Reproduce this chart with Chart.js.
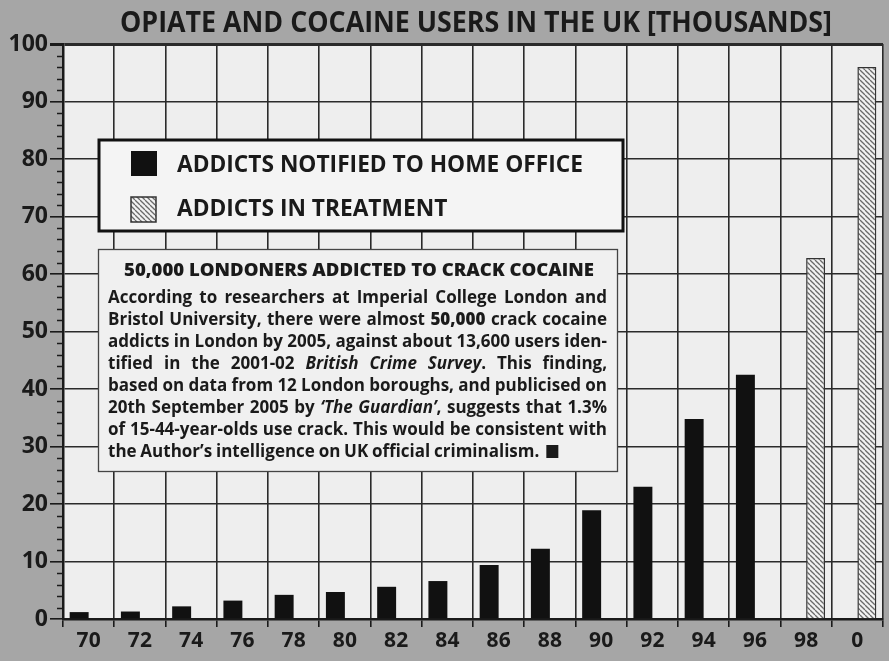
<!DOCTYPE html>
<html><head><meta charset="utf-8">
<script src="https://cdn.jsdelivr.net/npm/chart.js@4.4.1/dist/chart.umd.min.js"></script>
<style>html,body{margin:0;padding:0;background:#a6a6a6;overflow:hidden;}</style>
</head><body>
<canvas id="c" width="889" height="661"></canvas>
<script>
// ---- data ----
const years = ['70','72','74','76','78','80','82','84','86','88','90','92','94','96','98','0'];
const notified = [1.2,1.3,2.2,3.2,4.2,4.7,5.6,6.6,9.4,12.2,18.9,23.0,34.8,42.5,null,null];
const treatment = [null,null,null,null,null,null,null,null,null,null,null,null,null,null,62.8,96.0];
const yMin = 0, yMax = 100, yStep = 10, yMinorStep = 2;
const titleText = 'OPIATE AND COCAINE USERS IN THE UK [THOUSANDS]';
const legendLabels = ['ADDICTS NOTIFIED TO HOME OFFICE', 'ADDICTS IN TREATMENT'];
const boxHeading = '50,000 LONDONERS ADDICTED TO CRACK COCAINE';
const boxLines = [
  'According to researchers at Imperial College London and',
  'Bristol University, there were almost **50,000** crack cocaine',
  'addicts in London by 2005, against about 13,600 users iden-',
  'tified in the 2001-02 *British Crime Survey*. This finding,',
  'based on data from 12 London boroughs, and publicised on',
  '20th September 2005 by *‘The Guardian’*, suggests that 1.3%',
  'of 15-44-year-olds use crack. This would be consistent with',
  'the Author’s intelligence on UK official criminalism.'
];

const FONT = '"Open Sans", "DejaVu Sans", sans-serif';
const INK = '#1a1a1a';

function makeHatch(bg) {
  const s = 5, c = document.createElement('canvas');
  c.width = s; c.height = s;
  const g = c.getContext('2d');
  g.fillStyle = bg; g.fillRect(0, 0, s, s);
  g.strokeStyle = '#6a6a6a'; g.lineWidth = 1.3;
  for (const k of [-s, 0, s]) { g.beginPath(); g.moveTo(k, 0); g.lineTo(k + s, s); g.stroke(); }
  return g.createPattern(c, 'repeat');
}
const hatch = makeHatch('#f2f2f2');

function fitText(ctx, text, font, cx, y, targetW, align) {
  ctx.save();
  ctx.font = font;
  const w = ctx.measureText(text).width;
  const sx = targetW ? targetW / w : 1;
  ctx.translate(cx, y);
  ctx.scale(sx, 1);
  ctx.textAlign = align || 'center';
  ctx.textBaseline = 'alphabetic';
  ctx.fillText(text, 0, 0);
  ctx.restore();
}

function parseLine(str) {
  let bold = false, ital = false;
  return str.split(' ').filter(w => w.length).map(word => {
    const pieces = []; let cur = ''; let i = 0;
    const push = () => { if (cur) pieces.push({ t: cur, b: bold, i: ital }); cur = ''; };
    while (i < word.length) {
      if (word.startsWith('**', i)) { push(); bold = !bold; i += 2; }
      else if (word[i] === '*') { push(); ital = !ital; i += 1; }
      else { cur += word[i]; i++; }
    }
    push();
    return pieces;
  });
}
const SZ = 17;
function fontFor(p) {
  return (p.i ? 'italic ' : '') + (p.b ? '800 ' : 'bold ') + SZ + 'px ' + FONT;
}
function drawBodyLine(ctx, str, x, y, width, justify) {
  const words = parseLine(str);
  const ww = words.map(w => w.reduce((a, p) => { ctx.font = fontFor(p); return a + ctx.measureText(p.t).width; }, 0));
  ctx.font = fontFor({});
  const sp = ctx.measureText(' ').width * 0.85;
  const sum = ww.reduce((a, b) => a + b, 0);
  const natural = sum + sp * (words.length - 1);
  let sx = 1, gap = sp;
  if (natural > width) { sx = width / natural; }
  else if (justify) { gap = (width - sum) / (words.length - 1); }
  ctx.save();
  ctx.translate(x, y); ctx.scale(sx, 1);
  ctx.textAlign = 'left'; ctx.textBaseline = 'alphabetic';
  let cx = 0;
  words.forEach((w, k) => {
    w.forEach(p => { ctx.font = fontFor(p); ctx.fillText(p.t, cx, 0); cx += ctx.measureText(p.t).width; });
    if (k < words.length - 1) cx += gap;
  });
  ctx.restore();
  return x + cx * sx;
}

const decor = {
  id: 'decor',
  beforeDraw(chart) {
    const { ctx, chartArea: a } = chart;
    ctx.save();
    ctx.fillStyle = '#a6a6a6';
    ctx.fillRect(0, 0, chart.width, chart.height);
    ctx.fillStyle = '#eeeeee';
    ctx.fillRect(a.left, a.top, a.right - a.left, a.bottom - a.top);
    ctx.restore();
  },
  afterDraw(chart) {
    const { ctx, chartArea: a } = chart;
    const ys = chart.scales.y;
    ctx.save();
    ctx.fillStyle = INK;
    // title
    fitText(ctx, titleText, 'bold 29px ' + FONT, 476, 32, 712);
    // minor ticks
    ctx.strokeStyle = INK; ctx.lineWidth = 1.5;
    for (let v = yMin; v <= yMax; v += yMinorStep) {
      if (v % yStep === 0) continue;
      const py = Math.round(ys.getPixelForValue(v)) + 0.5;
      ctx.beginPath(); ctx.moveTo(a.left - 6, py); ctx.lineTo(a.left, py); ctx.stroke();
    }
    // legend box
    ctx.fillStyle = '#f4f4f4';
    ctx.fillRect(99, 140, 524, 91);
    ctx.lineWidth = 3; ctx.strokeStyle = '#111';
    ctx.strokeRect(99, 140, 524, 91);
    ctx.fillStyle = '#111';
    ctx.fillRect(131, 151, 26, 25);
    ctx.fillStyle = hatch;
    ctx.fillRect(131, 197, 25, 25);
    ctx.lineWidth = 1.5; ctx.strokeStyle = '#333';
    ctx.strokeRect(131, 197, 25, 25);
    ctx.fillStyle = INK;
    ctx.font = 'bold 23px ' + FONT;
    const lw = ctx.measureText(legendLabels[0]).width;
    const lsx = 406 / lw;
    [[legendLabels[0], 172], [legendLabels[1], 216]].forEach(([t, y]) => {
      ctx.save(); ctx.translate(177, y); ctx.scale(lsx, 1);
      ctx.textAlign = 'left'; ctx.fillText(t, 0, 0); ctx.restore();
    });
    // text box
    ctx.fillStyle = '#f0f0f0';
    ctx.fillRect(98, 249, 519, 222);
    ctx.lineWidth = 1.3; ctx.strokeStyle = '#444';
    ctx.strokeRect(98.5, 249.5, 519, 222);
    ctx.fillStyle = INK;
    fitText(ctx, boxHeading, '800 17.5px ' + FONT, 359, 276, 470);
    let endX = 0;
    boxLines.forEach((l, i) => {
      endX = drawBodyLine(ctx, l, 108, 303 + i * 22, 499, i < boxLines.length - 1);
    });
    ctx.fillRect(endX + 7, 445, 12, 13);
    ctx.restore();
  }
};

new Chart(document.getElementById('c'), {
  type: 'bar',
  data: {
    labels: years,
    datasets: [
      { label: legendLabels[0], data: notified, backgroundColor: '#111', borderWidth: 0 },
      { label: legendLabels[1], data: treatment, backgroundColor: hatch, borderColor: '#333', borderWidth: 1.5 }
    ]
  },
  options: {
    responsive: false, animation: false, devicePixelRatio: 1,
    layout: { padding: { top: 44, right: 6, left: 0, bottom: 0 } },
    datasets: { bar: { categoryPercentage: 0.74, barPercentage: 1.0 } },
    plugins: { legend: { display: false }, title: { display: false }, tooltip: { enabled: false } },
    scales: {
      x: {
        grid: { color: '#2a2a2a', lineWidth: 1.6, tickLength: 8, offset: true, tickColor: INK },
        border: { color: INK, width: 2.5 },
        ticks: { color: INK, font: { family: FONT, size: 21, weight: 'bold' }, padding: 1, maxRotation: 0, autoSkip: false },
        afterFit(s) { s.height = 42; }
      },
      y: {
        min: yMin, max: yMax,
        grid: {
          color: '#2a2a2a', tickColor: INK, tickLength: 13,
          lineWidth: c => (c.tick && c.tick.value === yMax ? 3 : 1.6)
        },
        border: { color: INK, width: 2.5 },
        ticks: { stepSize: yStep, color: INK, font: { family: FONT, size: 23, weight: 'bold' }, padding: 2 },
        afterFit(s) { s.width = 63; }
      }
    }
  },
  plugins: [decor]
});
</script>
</body></html>
